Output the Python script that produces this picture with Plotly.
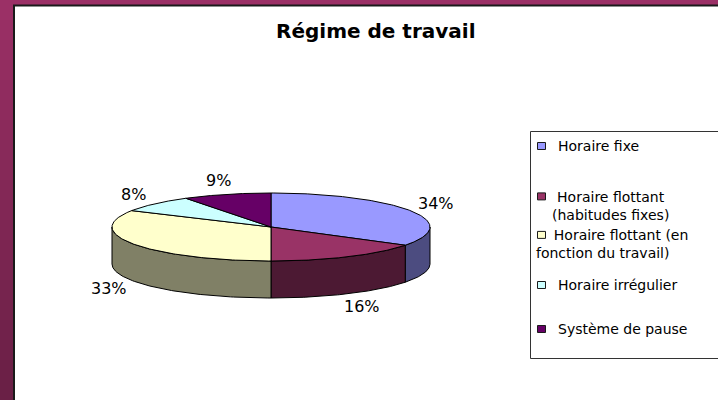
import numpy as np
import plotly.graph_objects as go

# ---------------- data ----------------
title_text = "Régime de travail"
categories = [
    "Horaire fixe",
    "Horaire flottant (habitudes fixes)",
    "Horaire flottant (en fonction du travail)",
    "Horaire irrégulier",
    "Système de pause",
]
legend_lines = [
    ["Horaire fixe"],
    ["Horaire flottant", "(habitudes fixes)"],
    ["Horaire flottant (en", "fonction du travail)"],
    ["Horaire irrégulier"],
    ["Système de pause"],
]
values = [34, 16, 33, 8, 9]
top_colors = ["#9999FF", "#993366", "#FFFFCC", "#CCFFFF", "#660066"]
side_colors = ["#4C4C80", "#4C1933", "#808066", "#668080", "#330033"]

# ---------------- style / geometry ----------------
W, H = 718, 400
CX, CY, A, B, DEPTH = 271, 227, 159, 34, 37
FONT = "DejaVu Sans"
LEG_SIZE = 14
LINE_SP = LEG_SIZE * 1.3

# vertical centre of each legend entry, its text anchor x, alignment and leading pad
legend_item_y = [146, 205.5, 244, 285, 329]
legend_text_x = [556, 550, 534, 556, 556]
legend_align = ["left", "center", "left", "left", "left"]
legend_pad = [0, 0, 4, 0, 0]

theta_edges = np.concatenate([[0], np.cumsum(values)]) / sum(values) * 360.0


def ell(theta_deg, ka=0.0, kb=0.0):
    t = np.radians(theta_deg)
    return CX + (A + ka) * np.sin(t), CY - (B + kb) * np.cos(t)


fig = go.Figure()

# side walls (only the front half is visible)
for i in range(len(values)):
    lo, hi = max(theta_edges[i], 90), min(theta_edges[i + 1], 270)
    if hi <= lo:
        continue
    ts = np.linspace(lo, hi, 80)
    xs, ys = ell(ts)
    X = np.concatenate([xs, xs[::-1], xs[:1]])
    Y = np.concatenate([ys, (ys + DEPTH)[::-1], ys[:1]])
    fig.add_trace(go.Scatter(x=X, y=Y, mode="lines", fill="toself",
                             fillcolor=side_colors[i],
                             line=dict(color="black", width=1),
                             hoverinfo="skip", showlegend=False))

# top faces
for i in range(len(values)):
    ts = np.linspace(theta_edges[i], theta_edges[i + 1], 120)
    xs, ys = ell(ts)
    X = np.concatenate([[CX], xs, [CX]])
    Y = np.concatenate([[CY], ys, [CY]])
    fig.add_trace(go.Scatter(x=X, y=Y, mode="lines", fill="toself",
                             fillcolor=top_colors[i],
                             line=dict(color="black", width=1),
                             name=categories[i],
                             hoverinfo="name", showlegend=False))

annotations = []
# percentage labels
for i, v in enumerate(values):
    mid = (theta_edges[i] + theta_edges[i + 1]) / 2
    lx, ly = ell(mid, ka=29, kb=14)
    if 90 < mid < 270:
        ly += DEPTH
    annotations.append(dict(x=lx, y=ly, xref="x", yref="y", text=f"{v}%",
                            showarrow=False, xanchor="center", yanchor="middle",
                            font=dict(family=FONT, size=16, color="black")))

# title
annotations.append(dict(x=376, y=31, xref="x", yref="y", text=f"<b>{title_text}</b>",
                        showarrow=False, xanchor="center", yanchor="middle",
                        font=dict(family=FONT, size=20, color="black")))

shapes = []
# purple frame with gradient on the left strip
c_top = np.array([0x9B, 0x30, 0x66])
c_bot = np.array([0x6A, 0x20, 0x46])
nb = 20
for k in range(nb):
    c = (c_top + (c_bot - c_top) * k / (nb - 1)).astype(int)
    shapes.append(dict(type="rect", xref="x", yref="y", x0=0, x1=14,
                       y0=k * H / nb, y1=(k + 1) * H / nb + 1,
                       fillcolor="rgb(%d,%d,%d)" % tuple(c), line=dict(width=0),
                       layer="below"))
shapes.append(dict(type="rect", xref="x", yref="y", x0=14, x1=722, y0=5.5, y1=404,
                   fillcolor="white", line=dict(color="#1a1a1a", width=2), layer="below"))

# legend box
shapes.append(dict(type="rect", xref="x", yref="y", x0=530.5, x1=740, y0=131.5, y1=358.5,
                   fillcolor="white", line=dict(color="#333333", width=1), layer="below"))
for i, lines in enumerate(legend_lines):
    yc = legend_item_y[i]
    y_first = yc - (len(lines) - 1) * LINE_SP / 2
    shapes.append(dict(type="rect", xref="x", yref="y", x0=537.5, x1=545.5,
                       y0=y_first - 3.5, y1=y_first + 3.5, fillcolor=top_colors[i],
                       line=dict(color="#1a1a1a", width=1)))
    txt = "&nbsp;" * legend_pad[i] + "<br>".join(lines)
    annotations.append(dict(x=legend_text_x[i], y=yc, xref="x", yref="y",
                            text=txt, showarrow=False, xanchor="left", yanchor="middle",
                            align=legend_align[i],
                            font=dict(family=FONT, size=LEG_SIZE, color="black")))

fig.update_layout(
    width=W, height=H, autosize=False,
    margin=dict(l=0, r=0, t=0, b=0, pad=0),
    paper_bgcolor="#9B3066", plot_bgcolor="rgba(0,0,0,0)",
    xaxis=dict(range=[0, W], visible=False, fixedrange=True),
    yaxis=dict(range=[H, 0], visible=False, fixedrange=True),
    shapes=shapes, annotations=annotations, showlegend=False,
)

fig.write_html("out.html", config={"displayModeBar": False})
